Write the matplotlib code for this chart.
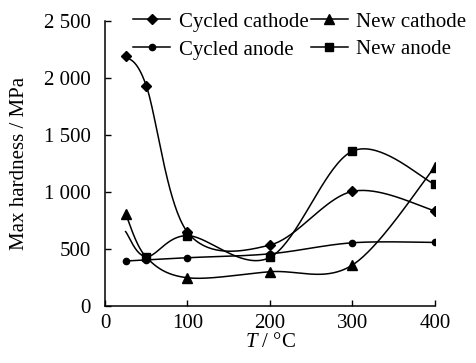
import numpy as np
import matplotlib
matplotlib.use("Agg")
import matplotlib.pyplot as plt
from matplotlib.lines import Line2D

plt.rcParams['font.family'] = ['Liberation Serif', 'DejaVu Serif']
plt.rcParams['mathtext.fontset'] = 'custom'
plt.rcParams['mathtext.it'] = 'Liberation Serif:italic'
plt.rcParams['mathtext.rm'] = 'Liberation Serif'

# ---- data ----
temps_cc = [25, 50, 100, 200, 300, 400]
cycled_cathode = [2190, 1930, 645, 532, 1003, 832]

temps_ca = [25, 50, 100, 200, 300, 400]
cycled_anode = [392, 402, 421, 455, 552, 555]

temps_nc = [25, 50, 100, 200, 300, 400]
new_cathode = [805, 425, 245, 298, 357, 1218]

temps_na = [25, 50, 100, 200, 300, 400]
new_anode = [650, 430, 615, 424, 1356, 1064]

yticks = [0, 500, 1000, 1500, 2000, 2500]
ytick_labels = ["0", "500", "1 000", "1 500", "2 000", "2 500"]
xticks = [0, 100, 200, 300, 400]

W, H = 477, 363
fig = plt.figure(figsize=(W / 100, H / 100), dpi=100)
ax = fig.add_axes([105 / W, 1 - 305.7 / H, 330 / W, 285 / H])
ax.set_xlim(0, 400)
ax.set_ylim(0, 2500)

sx = 330 / 400.0
sy = 285 / 2500.0


def smooth(xs, ys, n=40):
    P = np.column_stack([np.array(xs, float) * sx, np.array(ys, float) * sy])
    pts = []
    m = len(P)
    for i in range(m - 1):
        p0 = P[i - 1] if i > 0 else P[i]
        p1 = P[i]
        p2 = P[i + 1]
        p3 = P[i + 2] if i + 2 < m else P[i + 1]
        c1 = p1 + (p2 - p0) / 6.0
        c2 = p2 - (p3 - p1) / 6.0
        t = np.linspace(0, 1, n)[:, None]
        seg = ((1 - t) ** 3) * p1 + 3 * ((1 - t) ** 2) * t * c1 + 3 * (1 - t) * t ** 2 * c2 + t ** 3 * p2
        pts.append(seg if i == 0 else seg[1:])
    pts = np.vstack(pts)
    return pts[:, 0] / sx, pts[:, 1] / sy


lw = 1.1
FS = 15
series = [
    (temps_cc, cycled_cathode, 'D', 5.0, "Cycled cathode", list(range(6))),
    (temps_ca, cycled_anode, 'o', 4.5, "Cycled anode", list(range(6))),
    (temps_nc, new_cathode, '^', 7.0, "New cathode", [0, 2, 3, 4, 5]),
    (temps_na, new_anode, 's', 6.0, "New anode", [1, 2, 3, 4, 5]),
]
handles = []
for xs, ys, mk, ms, lab, every in series:
    cx, cy = smooth(xs, ys)
    ax.plot(cx, cy, color='black', lw=lw)
    ax.plot([xs[i] for i in every], [ys[i] for i in every], linestyle='none',
            marker=mk, ms=ms, color='black')
    handles.append(Line2D([], [], color='black', lw=lw, marker=mk, ms=ms, label=lab))

ax.set_xticks(xticks)
ax.set_xticklabels([str(v) for v in xticks])
ax.set_yticks(yticks)
ax.set_yticklabels(ytick_labels)
ax.tick_params(direction='in', length=4, width=1.0, labelsize=FS)
ax.tick_params(axis='y', pad=10)
ax.tick_params(axis='x', pad=6)
for s in ['top', 'right']:
    ax.spines[s].set_visible(False)
for s in ['left', 'bottom']:
    ax.spines[s].set_linewidth(1.1)

ax.set_ylabel("Max hardness / MPa", fontsize=FS)
ax.yaxis.set_label_coords((29 - 105) / 330, 0.5)
ax.set_xlabel("$T$ / °C", fontsize=FS)
ax.xaxis.set_label_coords(0.5, -(333 - 305.7) / 285, transform=ax.transAxes)
ax.xaxis.label.set_va('top')

leg = fig.legend(handles=handles, ncol=2, loc='upper left',
                 bbox_to_anchor=(133 / W, 1 - 12 / H), frameon=False,
                 fontsize=FS, handlelength=1.8, handletextpad=0.4,
                 columnspacing=0.1, labelspacing=0.4, borderpad=0,
                 borderaxespad=0)

fig.savefig("out.png", dpi=100)
